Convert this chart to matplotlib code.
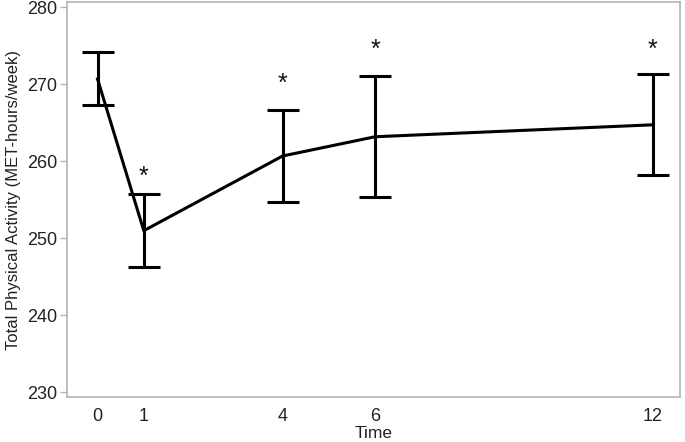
import matplotlib
matplotlib.use('Agg')
from matplotlib import pyplot as plt
import numpy as np

plt.rcParams['font.family'] = ['Liberation Sans', 'DejaVu Sans']

# data
time = [0, 1, 4, 6, 12]
mean = [270.7, 251.0, 260.7, 263.2, 264.75]
upper = [274.2, 255.7, 266.65, 271.05, 271.3]
lower = [267.3, 246.3, 254.75, 255.4, 258.2]
star_x = [1, 4, 6, 12]
star_y = [258.05, 270.1, 274.45, 274.45]

yerr = [np.array(mean) - np.array(lower), np.array(upper) - np.array(mean)]

fig = plt.figure(figsize=(6.85, 4.42), dpi=100)
ax = fig.add_axes([67/685, 1 - 397/442, (680 - 67)/685, (397 - 2)/442])

ax.errorbar(time, mean, yerr=yerr, color='black', linewidth=2.2,
            elinewidth=2.2, capsize=11.2, capthick=2.2)

for x, y in zip(star_x, star_y):
    ax.text(x, y, '*', ha='center', va='center', fontsize=18, color='#111111')

ax.set_xlim(-0.66, 12.59)
ax.set_ylim(229.4, 280.7)
ax.set_xticks(time)
ax.set_yticks([230, 240, 250, 260, 270, 280])

for s in ax.spines.values():
    s.set_color('#b4b4b4')
    s.set_linewidth(1.2)

ax.tick_params(axis='y', colors='#b4b4b4', labelcolor='#222222', labelsize=13, length=5, width=1, pad=2)
ax.tick_params(axis='x', length=0, labelsize=13, labelcolor='#222222', pad=8)

ax.set_xlabel('Time', fontsize=12.5, color='#222222', labelpad=1)
ax.set_ylabel('Total Physical Activity (MET-hours/week)', fontsize=12, color='#222222', labelpad=4)

plt.savefig('out.png', dpi=100)
